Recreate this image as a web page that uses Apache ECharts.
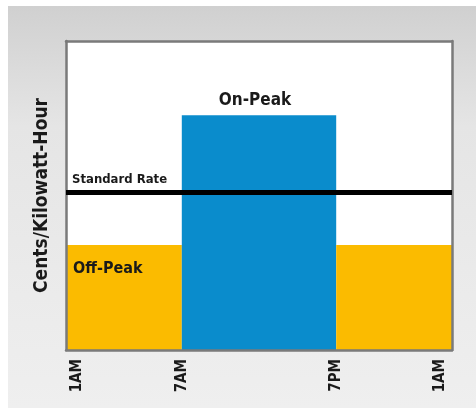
<!DOCTYPE html>
<html>
<head>
<meta charset="utf-8">
<script src="https://cdn.jsdelivr.net/npm/echarts@6/dist/echarts.min.js"></script>
<style>
html,body{margin:0;padding:0;background:#ffffff;}
#c{width:476px;height:409px;}
</style>
</head>
<body>
<div id="c"></div>
<script>
// Schematic time-of-use rate chart (arbitrary units)
const periodNames = ['Off-Peak', 'On-Peak', 'Off-Peak'];
const periodStart = [0, 3, 7];
const periodEnd = [3, 7, 10];
const periodRate = [3.4, 7.6, 3.4];
const periodLabelShown = [true, true, false];
const standardRate = 5.1;
const tickValues = [0.3, 3, 7, 9.7];
const tickLabels = ['1AM', '7AM', '7PM', '1AM'];
const yAxisTitle = 'Cents/Kilowatt-Hour';
const standardRateLabel = 'Standard Rate';

const FONT = "'Liberation Sans Narrow', 'DejaVu Sans Condensed', 'Roboto Condensed', Arial, sans-serif";
const OFF_COLOR = '#fbbb00';
const ON_COLOR = '#0a8ccc';

const chart = echarts.init(document.getElementById('c'), null, {renderer: 'canvas'});

const data = periodNames.map((n, i) => [periodStart[i], periodEnd[i], periodRate[i], n, periodLabelShown[i] ? 1 : 0]);

const option = {
  animation: false,
  backgroundColor: '#ffffff',
  graphic: [{
    type: 'rect', z: -10, silent: true,
    shape: {x: 8, y: 6, width: 468, height: 402},
    style: {
      fill: new echarts.graphic.LinearGradient(0, 0, 0, 1, [
        {offset: 0, color: '#d0d0d0'},
        {offset: 0.3, color: '#e5e5e5'},
        {offset: 1, color: '#efefef'}
      ])
    }
  }],
  grid: {left: 66, right: 24, top: 41, bottom: 59, show: true, backgroundColor: '#ffffff', borderWidth: 0},
  xAxis: [{
    type: 'value', min: 0, max: 10, z: 5,
    axisLine: {show: true, lineStyle: {color: '#7a7a7a', width: 2.5}},
    axisTick: {show: false},
    splitLine: {show: false},
    axisLabel: {
      customValues: tickValues,
      rotate: 90, margin: 9,
      formatter: v => tickLabels[tickValues.indexOf(v)] || '',
      fontFamily: FONT, fontWeight: 'bold', fontSize: 15, color: '#1a1a1a'
    }
  }, {
    type: 'value', min: 0, max: 10, position: 'top', z: 5,
    axisLine: {show: true, onZero: false, lineStyle: {color: '#7a7a7a', width: 2.5}},
    axisTick: {show: false}, axisLabel: {show: false}, splitLine: {show: false}
  }],
  yAxis: [{
    type: 'value', min: 0, max: 10, z: 5,
    name: yAxisTitle, nameLocation: 'middle', nameGap: 14, nameRotate: 90,
    nameTextStyle: {fontFamily: FONT, fontWeight: 'bold', fontSize: 19, color: '#1a1a1a'},
    axisLine: {show: true, onZero: false, lineStyle: {color: '#7a7a7a', width: 2.5}},
    axisTick: {show: false}, axisLabel: {show: false}, splitLine: {show: false}
  }, {
    type: 'value', min: 0, max: 10, position: 'right', z: 5,
    axisLine: {show: true, onZero: false, lineStyle: {color: '#7a7a7a', width: 2.5}},
    axisTick: {show: false}, axisLabel: {show: false}, splitLine: {show: false}
  }],
  series: [{
    type: 'custom',
    xAxisIndex: 0, yAxisIndex: 0,
    data: data,
    renderItem: function (params, api) {
      const s = api.coord([api.value(0), api.value(2)]);
      const e = api.coord([api.value(1), 0]);
      const name = periodNames[params.dataIndex];
      const isOn = name === 'On-Peak';
      const children = [{
        type: 'rect',
        shape: {x: s[0], y: s[1], width: e[0] - s[0], height: e[1] - s[1]},
        style: {fill: isOn ? ON_COLOR : OFF_COLOR}
      }];
      if (api.value(4)) {
        children.push({
          type: 'text',
          x: isOn ? (s[0] + e[0]) / 2 - 4 : s[0] + 7,
          y: isOn ? s[1] - 6 : s[1] + 24,
          style: {
            text: name,
            fontFamily: FONT, fontWeight: 'bold', fontSize: isOn ? 17 : 16, fill: '#1a1a1a',
            align: isOn ? 'center' : 'left',
            verticalAlign: isOn ? 'bottom' : 'middle'
          }
        });
      }
      return {type: 'group', children: children};
    },
    markLine: {
      silent: true,
      symbol: 'none',
      z: 6,
      lineStyle: {color: '#000000', width: 5, type: 'solid'},
      data: [{yAxis: standardRate}],
      label: {
        show: true, position: 'insideStartTop', formatter: standardRateLabel,
        distance: [6, 6],
        fontFamily: FONT, fontWeight: 'bold', fontSize: 13, color: '#1a1a1a'
      }
    }
  }]
};
chart.setOption(option);
</script>
</body>
</html>
